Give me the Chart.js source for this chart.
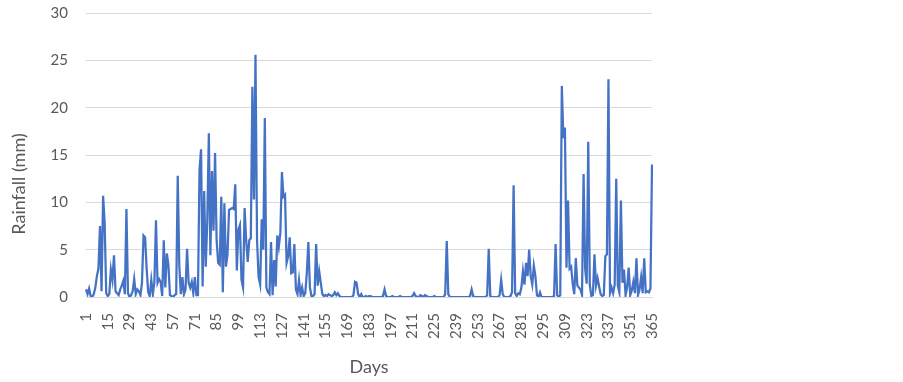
<!DOCTYPE html>
<html>
<head>
<meta charset="utf-8">
<script src="https://cdn.jsdelivr.net/npm/chart.js@4/dist/chart.umd.min.js"></script>
<style>
  html, body { margin: 0; padding: 0; background: #ffffff; }
  #wrap { width: 903px; height: 382px; position: relative; }
</style>
</head>
<body>
<div id="wrap"><canvas id="c" width="903" height="382"></canvas></div>
<script>
// Daily rainfall (mm), day 1 .. day 365
const rainfall = [
  0.8, 0.3, 0.9, 0.1, 0, 0.3, 1.0, 2.2, 3.0, 7.5,
  0.6, 10.7, 7.8, 0.4, 0.1, 0.3, 2.9, 1.8, 4.4, 0.6,
  0.4, 0.2, 0.8, 1.2, 1.7, 0.3, 9.3, 0.4, 0, 0.2,
  0.6, 1.9, 0.3, 0.8, 0.6, 0.2, 1.5, 6.5, 6.3, 3.0,
  0.5, 0.1, 1.8, 0.3, 1.6, 8.1, 1.5, 1.9, 1.6, 0.1,
  6.0, 1.0, 4.6, 3.4, 0.2, 0.1, 0, 0.2, 0.3, 12.8,
  3.3, 0.3, 2.1, 0.3, 0.8, 5.1, 1.5, 1.0, 1.6, 0.4,
  2.1, 0.2, 0.2, 13.4, 15.6, 1.1, 11.2, 3.2, 8.0, 17.3,
  4.4, 13.3, 7.0, 15.2, 6.0, 3.6, 3.4, 10.6, 0.5, 9.9,
  3.2, 4.5, 9.2, 9.3, 9.4, 9.3, 11.9, 2.8, 7.1, 7.6,
  1.8, 1.0, 9.4, 6.0, 3.7, 6.0, 6.2, 22.2, 10.3, 25.6,
  6.0, 2.1, 1.3, 8.2, 5.0, 18.9, 1.0, 0.5, 0.3, 5.8,
  0.2, 3.9, 1.1, 6.5, 5.3, 6.8, 13.2, 10.6, 10.8, 3.6,
  4.3, 6.3, 2.5, 2.6, 5.6, 0.8, 0.3, 1.8, 0.2, 1.0,
  0.1, 0.4, 2.5, 5.8, 1.0, 0.1, 0.1, 0.3, 5.6, 1.2,
  2.7, 1.5, 0.3, 0.1, 0.2, 0.1, 0.3, 0.2, 0.1, 0.2,
  0.5, 0.2, 0.4, 0.1, 0, 0, 0, 0, 0, 0,
  0, 0, 0.2, 1.6, 1.5, 0.3, 0, 0.3, 0, 0,
  0.1, 0, 0.1, 0.1, 0, 0, 0, 0, 0, 0,
  0, 0.1, 0.8, 0.1, 0, 0, 0, 0.1, 0, 0,
  0, 0, 0.1, 0, 0, 0, 0, 0, 0, 0,
  0.1, 0.4, 0.1, 0, 0, 0.2, 0.1, 0, 0.2, 0.1,
  0, 0, 0, 0, 0.1, 0, 0, 0, 0, 0,
  0, 0.3, 5.9, 0.3, 0, 0, 0, 0, 0, 0,
  0, 0, 0, 0, 0, 0, 0, 0.1, 0.8, 0.1,
  0, 0, 0, 0, 0, 0, 0, 0, 0.2, 5.1,
  0.1, 0, 0, 0, 0, 0, 0.2, 1.8, 0.3, 0,
  0, 0, 0, 0.1, 0.5, 11.8, 0.4, 0.1, 0.4, 0.3,
  1.0, 2.7, 1.3, 3.6, 2.2, 5.0, 2.2, 1.3, 3.3, 2.2,
  0.2, 0, 0.5, 0, 0, 0, 0, 0, 0, 0,
  0, 0.1, 5.6, 0.2, 0, 0.2, 22.3, 16.8, 17.9, 3.1,
  10.2, 3.0, 3.2, 1.4, 0.3, 4.1, 1.2, 1.0, 0.8, 0.2,
  13.0, 3.0, 1.4, 16.4, 1.3, 0.1, 0.2, 4.5, 1.2, 2.0,
  1.1, 0.3, 0.1, 0.2, 4.3, 4.5, 23.0, 0.4, 1.0, 0.4,
  1.3, 12.5, 1.2, 0.5, 10.2, 1.5, 2.9, 0.2, 1.0, 3.1,
  0.2, 0.7, 1.6, 0.4, 4.1, 0.2, 0.8, 2.1, 0.4, 4.1,
  0.5, 0.6, 0.5, 0.9, 14.0
];

// Category labels: days of the year
const days = rainfall.map((_, i) => String(i + 1));

// Tick labels shown on the x axis
const xTickLabels = ['1','15','29','43','57','71','85','99','113','127','141','155','169','183','197','211','225','239','253','267','281','295','309','323','337','351','365'];

// Y axis tick values
const yTicks = [0, 5, 10, 15, 20, 25, 30];

const xTitle = 'Days';
const yTitle = 'Rainfall (mm)';

const FONT = 'Lato, "Open Sans", "Liberation Sans", sans-serif';
const GREY = '#595959';

const yTitlePlugin = {
  id: 'yTitle',
  afterDraw(chart) {
    const ctx = chart.ctx;
    ctx.save();
    ctx.translate(19, 184);
    ctx.rotate(-Math.PI / 2);
    ctx.font = '18px ' + FONT;
    ctx.fillStyle = GREY;
    ctx.textAlign = 'center';
    ctx.textBaseline = 'middle';
    ctx.fillText(yTitle, 0, 0);
    ctx.restore();
  }
};

new Chart(document.getElementById('c'), {
  type: 'line',
  data: {
    labels: days,
    datasets: [{
      label: yTitle,
      data: rainfall,
      borderColor: '#4472C4',
      borderWidth: 2.25,
      pointRadius: 0,
      pointHoverRadius: 0,
      tension: 0,
      fill: false
    }]
  },
  options: {
    responsive: false,
    animation: false,
    devicePixelRatio: 1,
    layout: { padding: { left: 0, right: 251, top: 13, bottom: 0 } },
    plugins: {
      legend: { display: false },
      tooltip: { enabled: false }
    },
    scales: {
      x: {
        type: 'category',
        offset: false,
        grid: { display: false, drawTicks: false },
        border: { display: true, color: '#d9d9d9', width: 1 },
        ticks: {
          autoSkip: false,
          maxRotation: 90,
          minRotation: 90,
          padding: 16,
          color: GREY,
          font: { family: FONT, size: 15 },
          callback: function (value) {
            const lab = this.getLabelForValue(value);
            return xTickLabels.includes(lab) ? lab : null;
          }
        },
        title: {
          display: true,
          text: xTitle,
          color: GREY,
          font: { family: FONT, size: 18 },
          padding: { top: 4, bottom: 4 }
        },
        afterFit(scale) {
          scale.height = 85;
          scale.paddingTop = 0; scale.paddingBottom = 0;
          scale.paddingLeft = 0; scale.paddingRight = 0;
        }
      },
      y: {
        min: yTicks[0],
        max: yTicks[yTicks.length - 1],
        grid: { color: '#d9d9d9', lineWidth: 1, drawTicks: false },
        border: { display: false },
        ticks: {
          stepSize: 5,
          padding: 18,
          color: GREY,
          font: { family: FONT, size: 15 }
        },
        afterFit(scale) {
          scale.width = 86;
          scale.paddingTop = 0; scale.paddingBottom = 0;
        }
      }
    }
  },
  plugins: [yTitlePlugin]
});
</script>
</body>
</html>
